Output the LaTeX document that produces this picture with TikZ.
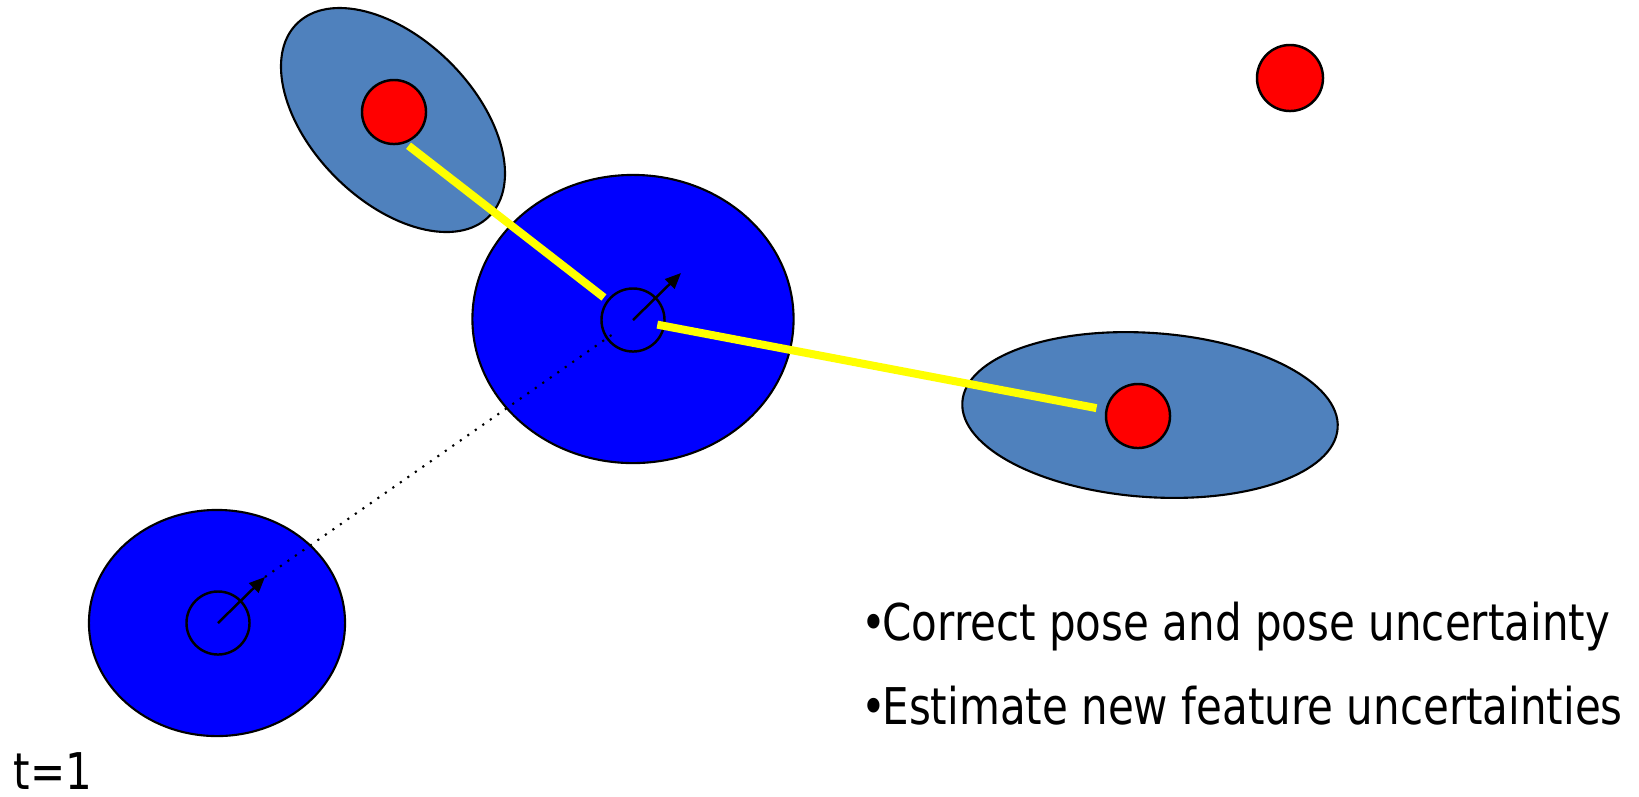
\documentclass[tikz,border=0pt]{standalone}
\usepackage{fontspec}
\setmainfont{DejaVu Sans}[FakeStretch=0.83]
\usetikzlibrary{arrows.meta, shapes.geometric}
\definecolor{covBlue}{HTML}{4F81BD}
\definecolor{poseBlue}{HTML}{0000FF}
\definecolor{featRed}{HTML}{FF0000}
\definecolor{linkYellow}{HTML}{FFFF00}

\begin{document}
\begin{tikzpicture}[x=0.01cm, y=-0.01cm,
    cov/.style={ellipse, draw, line width=0.6pt, fill=covBlue, inner sep=0pt},
    posecov/.style={ellipse, draw, line width=0.6pt, fill=poseBlue, inner sep=0pt},
    robot/.style={circle, draw, line width=0.7pt, minimum size=0.63cm, inner sep=0pt},
    feat/.style={circle, draw, line width=0.7pt, fill=featRed, minimum size=0.64cm, inner sep=0pt},
    link/.style={line width=0.08cm, draw=linkYellow},
    heading/.style={-{Triangle[length=4.5pt, width=3.8pt]}, line width=0.7pt},
    caption/.style={anchor=base west, inner sep=0pt, font=\fontsize{14.4}{17}\selectfont}]
    \useasboundingbox (0,0) rectangle (1639,796);
    % feature uncertainties
    \node[cov, minimum width=2.72cm, minimum height=1.62cm, rotate=-45] (c1) at (393,120) {};
    \node[cov, minimum width=3.76cm, minimum height=1.64cm, rotate=-4] (c2) at (1150,415) {};
    % pose uncertainties
    \node[posecov, minimum width=2.56cm, minimum height=2.26cm] (e0) at (217,623) {};
    \node[posecov, minimum width=3.21cm, minimum height=2.88cm] (e1) at (633,319) {};
    \node[robot] (r0) at (218,623) {};
    \node[robot] (r1) at (633,320) {};
    % features
    \node[feat] (f1) at (394,112) {};
    \node[feat] (f2) at (1138,416) {};
    \node[feat, minimum size=0.66cm] (f3) at (1290,78) {};
    % observations
    \draw[link, shorten <=0.04cm, shorten >=0.04cm] (f1.-70) -- (r1);
    \draw[link, shorten <=-0.08cm, shorten >=0.09cm] (r1) -- (f2);
    % headings
    \coordinate (h0) at (265,577);
    \coordinate (h1) at (681,273);
    \draw[heading] (r0.center) -- (h0);
    \draw[heading] (r1.center) -- (h1);
    \draw[dotted, line width=0.6pt, shorten >=-0.1cm] (h0) -- (r1);
    % text
    \node[caption] (b1) at (861,640) {•\kern-0.08em Correct pose and pose uncertainty};
    \node[caption] (b2) at (861,724) {•\kern-0.08em Estimate new feature uncertainties};
    \node[caption] (t1) at (13,789) {t=1};
\end{tikzpicture}
\end{document}
